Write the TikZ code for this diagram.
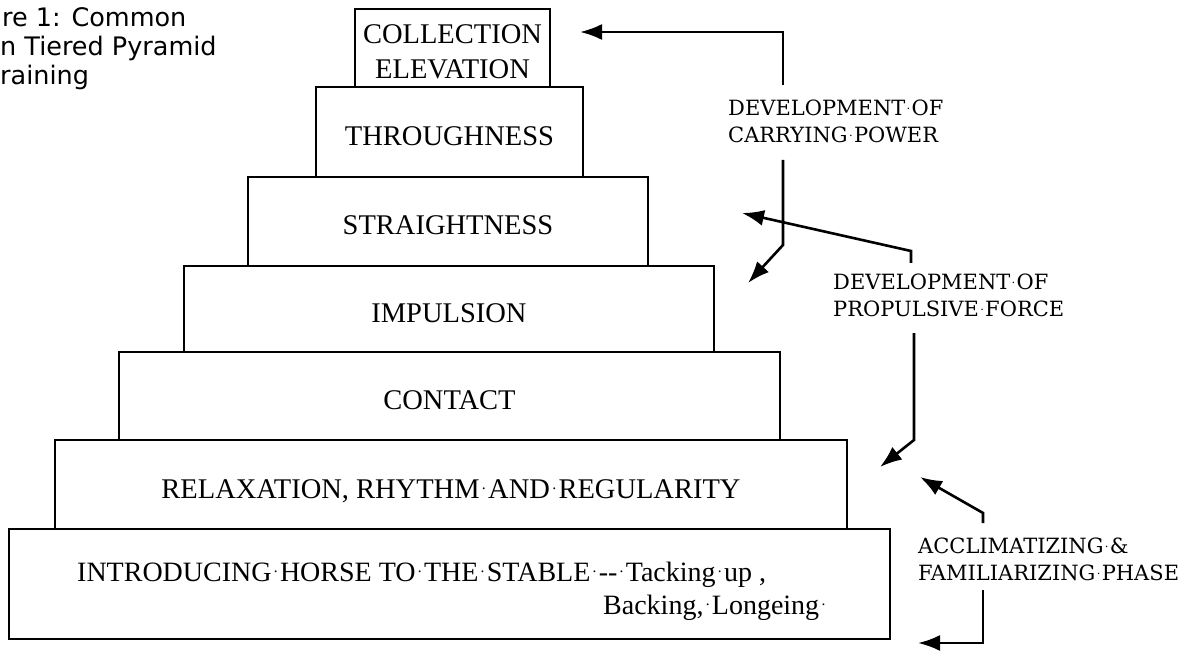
\documentclass[tikz,border=0pt]{standalone}
\usepackage{fontspec}
\usepackage{graphicx}
\newfontfamily\tierfont{Liberation Serif}
\newfontfamily\labfont{DejaVu Serif}
\newfontfamily\capfont{DejaVu Sans}
\usetikzlibrary{arrows.meta}
% small centred dot standing for a space mark
\newcommand\sd{\makebox[0.3em]{\raisebox{0.3em}{\scalebox{0.55}{.}}}}
\begin{document}
\begin{tikzpicture}[x=1pt,y=-1pt,
  tier/.style={draw, line width=2.3pt, inner sep=0pt, font=\tierfont\fontsize{28.5}{35}\selectfont},
  tiertx/.style={text height=27pt, text depth=0pt},
  plain/.style={inner sep=0pt, anchor=base west, font=\tierfont\fontsize{28}{35}\selectfont},
  lab/.style={align=left, anchor=west, inner sep=0pt, font=\labfont\fontsize{21}{27}\selectfont},
  arr/.style={line width=2.6pt, -{Latex[length=22pt,width=16pt]}},
  capt/.style={anchor=base west, inner sep=0pt, font=\capfont\fontsize{25.5}{29}\selectfont}]
\useasboundingbox (0,0) rectangle (1194,652);

% caption (cut off in the reference)
\node[capt] (cap1) at (2,27) {re 1: Common};
\node[capt] (cap2) at (0,56) {n Tiered Pyramid};
\node[capt] (cap3) at (0,85) {raining};

% pyramid tiers
\node[tier, align=center, minimum width=195, minimum height=78] (coll) at (452.5,48) {\rule{0pt}{26pt}COLLECTION\\ELEVATION};
\node[tier, tiertx, minimum width=267, minimum height=90] (thru) at (449.5,132) {THROUGHNESS};
\node[tier, tiertx, minimum width=400, minimum height=89] (stra) at (448,221.5) {STRAIGHTNESS};
\node[tier, tiertx, minimum width=530, minimum height=86] (impu) at (449,309) {IMPULSION};
\node[tier, tiertx, minimum width=661, minimum height=88] (cont) at (449.5,396) {CONTACT};
\node[tier, tiertx, minimum width=792, minimum height=89] (rela) at (451,484.5) {RELAXATION, RHYTHM\sd AND\sd REGULARITY};
\node[tier, minimum width=881, minimum height=110] (intr) at (449.5,584) {};
\node[plain] (intr1) at (77,581) {INTRODUCING\sd HORSE TO\sd THE\sd STABLE\sd-{}-\sd Tacking\sd up ,};
\node[plain] (intr2) at (603,614) {Backing,\sd Longeing\sd};

% side labels
\node[lab] (carry) at (728,121.5) {DEVELOPMENT\sd OF\\CARRYING\sd POWER};
\node[lab] (prop) at (833,295.5) {DEVELOPMENT\sd OF\\PROPULSIVE\sd FORCE};
\node[lab] (accl) at (918,559.5) {ACCLIMATIZING\sd\&\\FAMILIARIZING\sd PHASE};

% arrow ends
\coordinate (a1s) at (783,85);
\coordinate (a1t) at (580,32);
\coordinate (a2s) at (783,160);
\coordinate (a2b) at (783,245);
\coordinate (a2t) at (748,283);
\coordinate (a3s) at (911,263);
\coordinate (a3b) at (911,251);
\coordinate (a3t) at (742,213);
\coordinate (a4s) at (914,333);
\coordinate (a4b) at (914,440);
\coordinate (a4t) at (880,467);
\coordinate (a5s) at (983,523);
\coordinate (a5b) at (983,513);
\coordinate (a5t) at (920,477);
\coordinate (a6s) at (983,590);
\coordinate (a6t) at (918,643);

\draw[arr] (a1s) |- (a1t);
\draw[arr] (a2s) -- (a2b) -- (a2t);
\draw[arr] (a3s) -- (a3b) -- (a3t);
\draw[arr] (a4s) -- (a4b) -- (a4t);
\draw[arr] (a5s) -- (a5b) -- (a5t);
\draw[arr] (a6s) |- (a6t);
\end{tikzpicture}
\end{document}
